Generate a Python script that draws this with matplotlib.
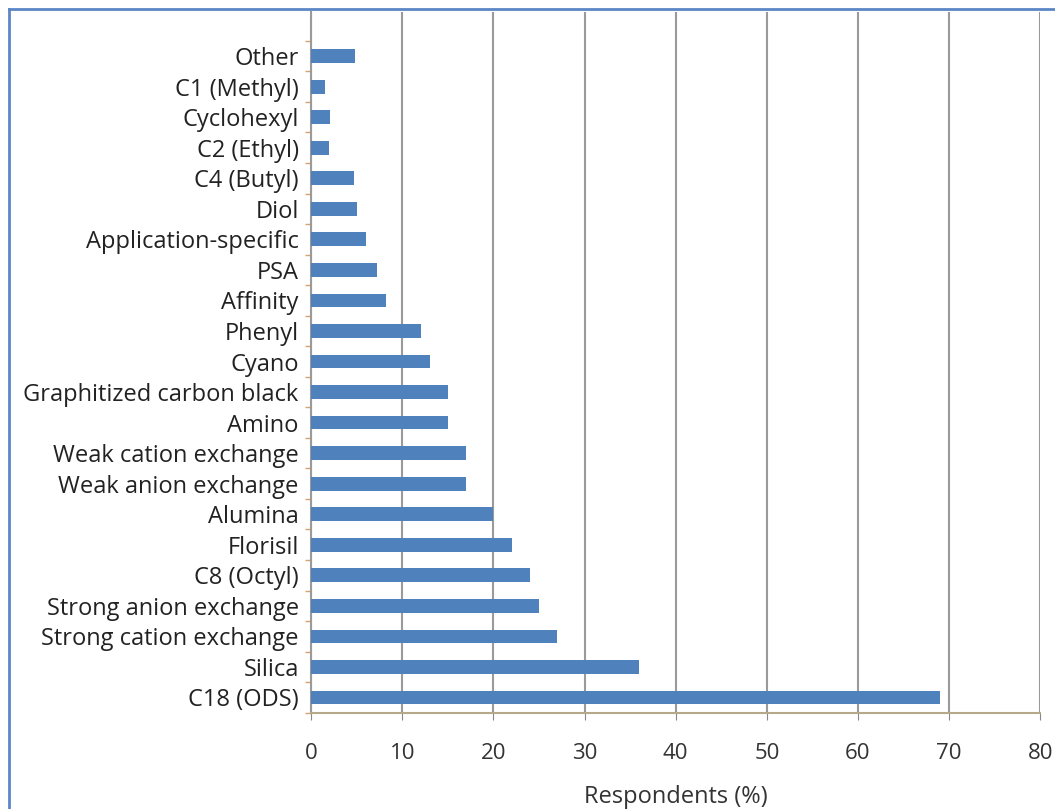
import matplotlib.pyplot as plt
from matplotlib.lines import Line2D
import numpy as np

plt.rcParams['font.family'] = ['Open Sans', 'DejaVu Sans']

categories = ['C18 (ODS)', 'Silica', 'Strong cation exchange', 'Strong anion exchange',
              'C8 (Octyl)', 'Florisil', 'Alumina', 'Weak anion exchange',
              'Weak cation exchange', 'Amino', 'Graphitized carbon black', 'Cyano',
              'Phenyl', 'Affinity', 'PSA', 'Application-specific', 'Diol',
              'C4 (Butyl)', 'C2 (Ethyl)', 'Cyclohexyl', 'C1 (Methyl)', 'Other']
values = [69, 36, 27, 25, 24, 22, 20, 17, 17, 15, 15, 13, 12, 8.2, 7.2, 6, 5, 4.7, 2, 2.1, 1.5, 4.8]
x_ticks = [0, 10, 20, 30, 40, 50, 60, 70, 80]

W, H = 1055, 809
fig = plt.figure(figsize=(W / 100, H / 100), dpi=100)
ax = fig.add_axes([0.295, 0.119, 0.691, 0.866])

y = np.arange(len(categories))
ax.barh(y, values, height=0.45, color='#4f81bd', zorder=3)

ax.set_xlim(0, 80)
ax.set_ylim(-0.5, 22.44)
ax.set_xticks(x_ticks)
ax.set_xticklabels([str(t) for t in x_ticks], fontsize=16, color='#333333')
ax.set_yticks(y)
ax.set_yticklabels(categories, fontsize=17, color='#222222')
ax.set_yticks(np.arange(len(categories) + 1) - 0.5, minor=True)
ax.tick_params(axis='y', which='major', length=0, pad=9)
ax.tick_params(axis='y', which='minor', length=4, color='#d9a070', width=1)
ax.tick_params(axis='x', which='major', length=5, color='#888888', pad=17)

ax.grid(axis='x', color='#9a9a9a', linewidth=1.5, zorder=0)
ax.set_axisbelow(True)
for s in ['top', 'right']:
    ax.spines[s].set_visible(False)
ax.spines['left'].set_color('#9a9a9a')
ax.spines['left'].set_linewidth(1.5)
ax.spines['bottom'].set_color('#b8a88a')
ax.spines['bottom'].set_linewidth(1.5)

ax.set_xlabel('Respondents (%)', fontsize=17, color='#333333', labelpad=15)

# blue frame, only its top and left edges fall inside the picture
bx, by = 9 / W, 1 - 9 / H
fig.add_artist(Line2D([bx, 1.0], [by, by], transform=fig.transFigure, color='#5b86c5', linewidth=2))
fig.add_artist(Line2D([bx, bx], [0.0, by], transform=fig.transFigure, color='#5b86c5', linewidth=2))

fig.savefig('out.png', dpi=100)
